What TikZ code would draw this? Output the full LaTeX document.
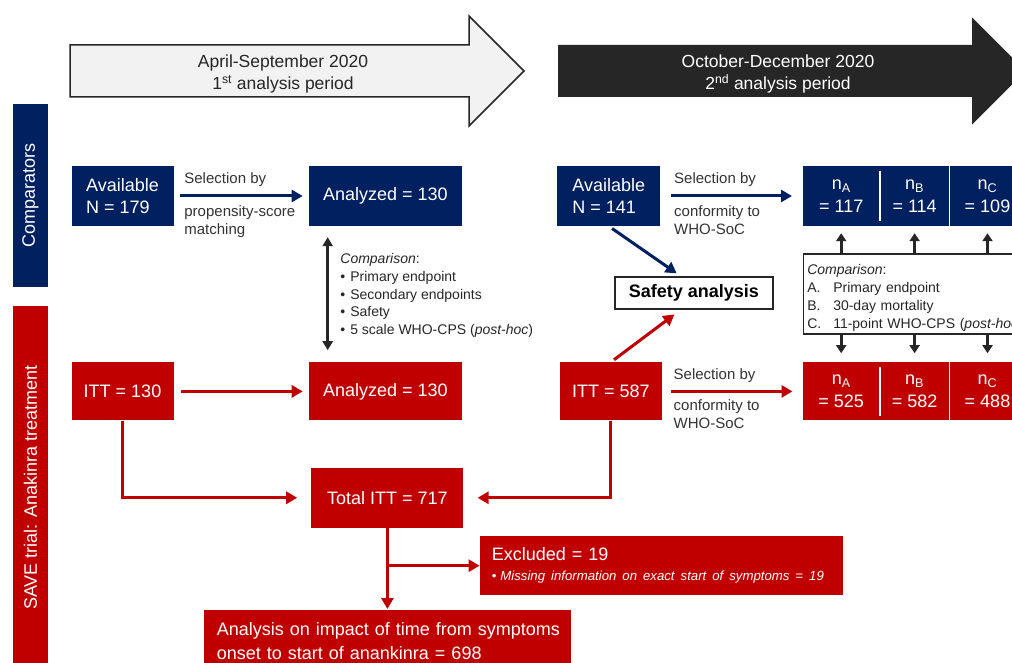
\documentclass[tikz,border=0pt]{standalone}
\usepackage{fontspec}
\setmainfont{Liberation Sans}
\usetikzlibrary{arrows.meta,positioning}
\definecolor{navy}{HTML}{002060}
\definecolor{crimson}{HTML}{C00000}
\definecolor{inkgray}{HTML}{262626}
\definecolor{palegray}{HTML}{F2F2F2}
\definecolor{labelgray}{HTML}{333333}

\begin{document}
\begin{tikzpicture}[
    x=1pt, y=-1pt,
    box/.style={rectangle, align=center, minimum height=60pt, inner sep=2pt, text=white, font=\fontsize{18}{22}\selectfont},
    navybox/.style={box, fill=navy},
    redbox/.style={box, fill=crimson, minimum height=58pt},
    band/.style={box, minimum height=35pt, rotate=90},
    safebox/.style={draw=inkgray, line width=1.5pt, fill=white, minimum width=158pt, minimum height=32pt, text=black, font=\bfseries\fontsize{18}{22}\selectfont},
    lbl/.style={align=left, inner sep=0pt, text=labelgray, font=\fontsize{15}{18.5}\selectfont},
    note/.style={align=left, inner sep=0pt, text=inkgray, font=\fontsize{14}{17.75}\selectfont},
    hdr/.style={align=center, font=\fontsize{17.5}{21.5}\selectfont},
    arr/.style={-{Triangle[length=11pt,width=12pt]}, line width=3pt},
    blk/.style={-{Triangle[length=8pt,width=10pt]}, line width=3pt, inkgray},
    dbl/.style={{Triangle[length=9pt,width=10pt]}-{Triangle[length=9pt,width=10pt]}, line width=2.5pt, inkgray},
    divider/.style={white, line width=1.5pt}
  ]
  \useasboundingbox (0,0) rectangle (1012,663);
  \clip (0,0) rectangle (1012,663);
  \fill[white] (0,0) rectangle (1012,663);

  \draw[inkgray, line width=1.5pt, fill=palegray] (70,45) -- (469,45) -- (469,16) -- (524,71) -- (469,126) -- (469,97) -- (70,97) -- cycle;
  \fill[inkgray] (558,45) -- (972,45) -- (972,17.5) -- (1025.5,71) -- (972,124.5) -- (972,97) -- (558,97) -- cycle;
  \node[hdr, text=inkgray] (per1) at (283,74) {April-September 2020\\1\textsuperscript{st} analysis period};
  \node[hdr, text=white] (per2) at (778,74) {October-December 2020\\2\textsuperscript{nd} analysis period};

  \node[navybox, band, minimum width=183pt] (comp) at (30.5,195.5) {Comparators};
  \node[redbox, band, minimum width=363pt] (save) at (30.5,487.5) {SAVE trial: Anakinra treatment};

  \node[navybox, align=left, minimum width=102pt] (avail1) at (122.5,196) {Available\\N = 179};
  \node[navybox, minimum width=153pt, right=135pt of avail1] (anal1) {Analyzed = 130};
  \node[navybox, align=left, minimum width=103pt, right=95pt of anal1] (avail2) {Available\\N = 141};
  \node[navybox, minimum width=77pt, right=142pt of avail2] (na1) {n\textsubscript{A}\\[1pt]= 117};
  \node[navybox, minimum width=69pt, right=0pt of na1] (nb1) {n\textsubscript{B}\\[1pt]= 114};
  \node[navybox, minimum width=76pt, right=0pt of nb1] (nc1) {n\textsubscript{C}\\[1pt]= 109};

  \node[redbox, minimum width=102pt, below=136pt of avail1] (itt1) {ITT = 130};
  \node[redbox, minimum width=153pt, below=136pt of anal1] (anal2) {Analyzed = 130};
  \node[redbox, minimum width=102pt, below=136pt of avail2, xshift=2pt] (itt2) {ITT = 587};
  \node[redbox, minimum width=77pt, below=136pt of na1] (na2) {n\textsubscript{A}\\[1pt]= 525};
  \node[redbox, minimum width=69pt, right=0pt of na2] (nb2) {n\textsubscript{B}\\[1pt]= 582};
  \node[redbox, minimum width=76pt, right=0pt of nb2] (nc2) {n\textsubscript{C}\\[1pt]= 488};

  \node[redbox, minimum width=152pt, minimum height=60pt, below=47pt of anal2, xshift=2pt] (total) {Total ITT = 717};
  \node[redbox, align=left, text width=339pt, inner xsep=12pt, minimum height=59pt, below right=8pt and 16pt of total.south east] (excl) {\mbox{Excluded = 19}\\[-2pt]\mbox{\fontsize{13.2}{16}\selectfont\textbullet\hspace{4pt}\textit{Missing information on exact start of symptoms = 19}}};
  \node[redbox, align=left, text width=341pt, inner xsep=13pt, minimum height=62pt, below=82pt of total] (impact) {\mbox{Analysis on impact of time from symptoms}\\[2pt]\mbox{onset to start of anankinra = 698}};

  \node[safebox, below=50pt of avail2, xshift=85pt] (safety) {Safety analysis};

  \node[lbl, anchor=south west] (sel1) at ([xshift=10.5pt, yshift=9.5pt]avail1.east) {Selection by};
  \node[lbl, anchor=north west] (psm) at ([xshift=10.5pt, yshift=-9pt]avail1.east) {propensity-score\\matching};
  \node[lbl, anchor=south west] (sel2) at ([xshift=13.5pt, yshift=9.5pt]avail2.east) {Selection by};
  \node[lbl, anchor=north west] (soc2) at ([xshift=13.5pt, yshift=-9pt]avail2.east) {conformity to\\WHO-SoC};
  \node[lbl, anchor=south west] (sel3) at ([xshift=11.5pt, yshift=9pt]itt2.east) {Selection by};
  \node[lbl, anchor=north west] (soc3) at ([xshift=11.5pt, yshift=-8pt]itt2.east) {conformity to\\WHO-SoC};

  \node[note, anchor=north west] (cmp1) at ([xshift=31.5pt, yshift=-27pt]anal1.south west) {\textit{Comparison}:\\\textbullet\hspace{5pt}Primary endpoint\\\textbullet\hspace{5pt}Secondary endpoints\\\textbullet\hspace{5pt}Safety\\\textbullet\hspace{5pt}5 scale WHO-CPS (\textit{post-hoc})};
  \node[note, draw=inkgray, line width=1.5pt, fill=white, anchor=north west, minimum height=80pt, text width=236pt, inner xsep=4pt] (cmp2) at ([yshift=-27pt]na1.south west) {\rule{0pt}{18pt}\textit{Comparison}:\\\makebox[26pt][l]{A.}Primary endpoint\\\makebox[26pt][l]{B.}30-day mortality\\\makebox[26pt][l]{C.}11-point WHO-CPS (\textit{post-hoc})};

  \foreach \cell in {na1,nb1,na2,nb2}
    \draw[divider] ([yshift=-5pt]\cell.north east) -- ([yshift=5pt]\cell.south east);

  \draw[arr, navy, shorten <=6.5pt, shorten >=6pt] (avail1) -- (anal1);
  \draw[arr, navy, shorten <=10.5pt, shorten >=10.5pt] (avail2) -- (na1);
  \draw[arr, crimson, shorten <=7pt, shorten >=6pt] (itt1) -- (anal2);
  \draw[arr, crimson, shorten <=9pt, shorten >=10pt] (itt2) -- (na2);
  \draw[arr, navy, shorten <=4pt, shorten >=5pt] (avail2.south) -- ([xshift=-13pt]safety.north);
  \draw[arr, crimson, shorten <=4pt, shorten >=8pt] (itt2.north) -- ([xshift=-13pt]safety.south);
  \draw[arr, crimson, shorten >=14pt] (itt1.south) |- (total.west);
  \draw[arr, crimson, shorten >=14pt] (itt2.south) |- (total.east);
  \draw[arr, crimson, shorten >=1pt] (total) -- (impact);
  \draw[arr, crimson] (total.south |- excl.west) -- (excl.west);

  \draw[dbl, shorten <=11pt, shorten >=12pt] ([xshift=19pt]anal1.south west) -- ([xshift=19pt]anal2.north west);
  \foreach \col in {a,b,c} {
    \draw[blk, shorten >=7pt] (n\col1 |- cmp2.north) -- (n\col1.south);
    \draw[blk, shorten >=9pt] (n\col1 |- cmp2.south) -- (n\col2.north);
  }
\end{tikzpicture}
\end{document}
